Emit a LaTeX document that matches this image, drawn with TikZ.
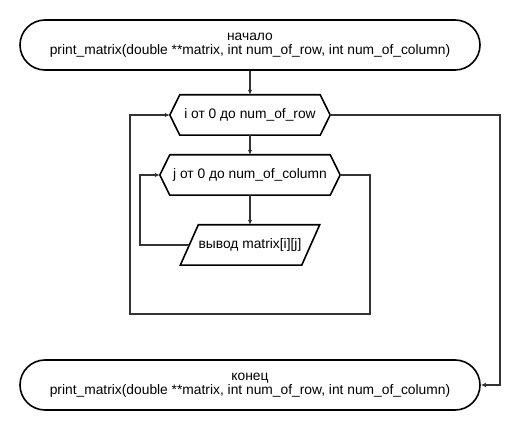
\documentclass[tikz,border=0pt]{standalone}
\usepackage{fontspec}
\setmainfont{Liberation Sans}
\usetikzlibrary{arrows.meta,calc}
\definecolor{linegray}{HTML}{333333}
\begin{document}
\begin{tikzpicture}[x=1pt,y=-1pt,
  every node/.style={font=\fontsize{13.8}{14.5}\selectfont, align=center, inner sep=0pt},
  shapeline/.style={line width=1.6pt, draw=black, line join=miter},
  terminal/.style={draw, shapeline, rounded corners=25pt, minimum width=460pt, minimum height=50pt},
  blockbox/.style={minimum height=40pt},
  link/.style={line width=1.4pt, draw=linegray},
  conn/.style={link, -{Latex[length=5pt,width=4.5pt]}}
]
\useasboundingbox (0,0) rectangle (520,430);

% terminals
\node[terminal] (start) at (250,45) {начало\\print\_matrix(double **matrix, int num\_of\_row, int num\_of\_column)};
\node[terminal] (end) at (250,385) {конец\\print\_matrix(double **matrix, int num\_of\_row, int num\_of\_column)};

% loop headers and output block
\node[blockbox, minimum width=160pt] (i) at (250,115) {i от 0 до num\_of\_row};
\node[blockbox, minimum width=180pt] (j) at (250,175) {j от 0 до num\_of\_column};
\node[blockbox, minimum width=121pt] (out) at (250,245) {вывод matrix[i][j]};

% hexagon outlines for the loops
\foreach \n in {i,j}
  \draw[shapeline] ([xshift=10pt]\n.north west) -- ([xshift=-10pt]\n.north east) -- (\n.east)
    -- ([xshift=-10pt]\n.south east) -- ([xshift=10pt]\n.south west) -- (\n.west) -- cycle;

% parallelogram for output
\draw[shapeline] ([xshift=9pt]out.north west) -- ([xshift=9pt]out.north east)
  -- ([xshift=-9pt]out.south east) -- ([xshift=-9pt]out.south west) -- cycle;

% routing guides
\coordinate (innerx) at (140,0);
\coordinate (outerl) at (130,0);
\coordinate (outerr) at (370,0);
\coordinate (outerb) at (0,314);
\coordinate (exitx) at (500,0);

% connectors
\draw[conn] (start) -- (i);
\draw[conn] (i) -- (j);
\draw[conn] (j) -- (out);
\draw[conn] (out.west) -- (out.west -| innerx) |- (j.west);
\draw[conn] (j.east) -- (j.east -| outerr) -- (outerr |- outerb) -- (outerl |- outerb) |- (i.west);
\draw[conn] (i.east) -- (i.east -| exitx) |- (end.east);
\end{tikzpicture}
\end{document}
